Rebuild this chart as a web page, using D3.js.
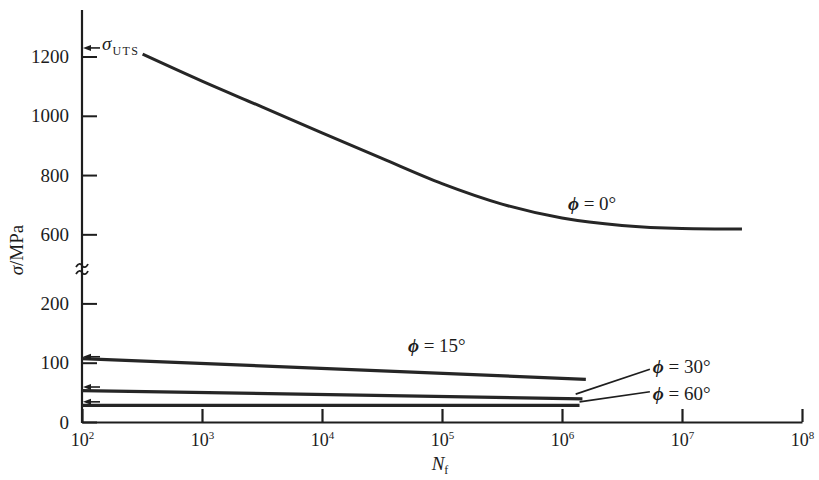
<!DOCTYPE html>
<html><head><meta charset="utf-8">
<script src="https://cdn.jsdelivr.net/npm/d3@7"></script>
<style>
body{margin:0;background:#fff}
svg{display:block}
text{font-family:"Liberation Serif","Times New Roman",serif;fill:#1c1c1c}
</style>
</head><body><svg id="c" width="819" height="480"></svg>
<script>
// ---- data ----
const cycles0 = [3.2e2, 1e3, 3.16e3, 1e4, 3.16e4, 1e5, 3.16e5, 1e6, 3.16e6, 1e7, 3.16e7];
const sigma0  = [1208, 1117, 1030, 942, 856, 771, 702, 655, 630, 620, 618];
const cycles15 = [1e2, 1.58e6];
const sigma15  = [107, 72];
const cycles30 = [1e2, 1.48e6];
const sigma30  = [53, 39];
const cycles60 = [1e2, 1.4e6];
const sigma60  = [28, 28];
const staticStrength = [1229, 110, 59, 34];      // left-pointing arrows at the axis
const xTickValues = [1e2, 1e3, 1e4, 1e5, 1e6, 1e7, 1e8];
const xTickExponents = ["2", "3", "4", "5", "6", "7", "8"];
const yTicksLow = [0, 100, 200];
const yTicksHigh = [600, 800, 1000, 1200];
const seriesLabels = ["0°", "15°", "30°", "60°"];
// label anchors (data coords) for series labels
const labelCycles = [1.12e6, 5.2e4, 5.7e6, 5.7e6];
const labelSigma  = [682, 118, 82.6, 37];

// ---- scales ----
const svg = d3.select("#c");
const x = d3.scaleLog().domain([1e2, 1e8]).range([82, 802]);
const breakLow = 258, breakHigh = 483;
const yLow = d3.scaleLinear().domain([0, breakLow]).range([422, 269]);
const yHigh = d3.scaleLinear().domain([breakHigh, 1357]).range([269, 10]);
const y = v => v <= breakLow ? yLow(v) : yHigh(v);
const ink = "#1e1e1e";

// ---- axes ----
const gx = svg.append("g").attr("transform", "translate(0,422)")
  .call(d3.axisBottom(x).tickValues(xTickValues).tickSizeInner(-13).tickSizeOuter(0).tickPadding(10).tickFormat(""));
gx.select(".domain").attr("stroke", ink).attr("stroke-width", 2.2);
gx.selectAll(".tick line").attr("stroke", ink).attr("stroke-width", 2.2);
gx.selectAll(".tick text").remove();
gx.selectAll(".tick").each(function(d, i) {
  const t = d3.select(this).append("text").attr("y", 24).attr("text-anchor", "middle")
    .attr("font-size", 18).attr("fill", ink);
  t.append("tspan").text("10");
  t.append("tspan").attr("font-size", 11).attr("dy", -7).text(xTickExponents[i]);
});

function yAxis(scale, ticks) {
  const g = svg.append("g").attr("transform", "translate(82,0)")
    .call(d3.axisLeft(scale).tickValues(ticks).tickSizeInner(-15).tickSizeOuter(0).tickPadding(13).tickFormat(d3.format("d")));
  g.select(".domain").remove();
  g.selectAll(".tick line").attr("stroke", ink).attr("stroke-width", 2);
  g.selectAll(".tick text").attr("font-size", 19).attr("fill", ink)
    .attr("font-family", '"Liberation Serif","Times New Roman",serif');
  return g;
}
yAxis(yLow, yTicksLow);
yAxis(yHigh, yTicksHigh);
svg.append("line").attr("x1", 82).attr("x2", 82).attr("y1", 10).attr("y2", 423)
  .attr("stroke", ink).attr("stroke-width", 2.2);

// break symbol (≈)
[-3.5, 3.5].forEach(dy => {
  const yy = 269 + dy;
  svg.append("path")
    .attr("d", `M76,${yy+1.5} C78.5,${yy-3} 81,${yy-2} 82,${yy} S86,${yy+3} 88,${yy-1.5}`)
    .attr("fill", "none").attr("stroke", ink).attr("stroke-width", 1.8);
});

// axis titles
const yt = svg.append("text").attr("transform", "translate(23,250) rotate(-90)")
  .attr("text-anchor", "middle").attr("font-size", 19).attr("fill", ink);
yt.append("tspan").attr("font-style", "italic").text("σ");
yt.append("tspan").text("/MPa");
const xt = svg.append("text").attr("x", 440).attr("y", 470).attr("text-anchor", "middle")
  .attr("font-size", 19).attr("fill", ink);
xt.append("tspan").attr("font-style", "italic").text("N");
xt.append("tspan").attr("font-size", 12).attr("dy", 4).text("f");

// ---- curves ----
const line = d3.line().x(d => x(d[0])).y(d => y(d[1])).curve(d3.curveMonotoneX);
const series = [
  d3.zip(cycles0, sigma0),
  d3.zip(cycles15, sigma15),
  d3.zip(cycles30, sigma30),
  d3.zip(cycles60, sigma60)
];
svg.append("g").selectAll("path").data(series).join("path")
  .attr("d", line).attr("fill", "none").attr("stroke", "#262626")
  .attr("stroke-width", (d, i) => i === 0 ? 3 : 3.2).attr("stroke-linecap", "butt");

// static-strength arrows
svg.append("g").selectAll("g").data(staticStrength).join("g").each(function(v) {
  const g = d3.select(this), yy = y(v);
  g.append("line").attr("x1", 86).attr("x2", 100).attr("y1", yy).attr("y2", yy)
    .attr("stroke", ink).attr("stroke-width", 1.6);
  g.append("path").attr("d", `M83,${yy} L91,${yy-3} L91,${yy+3} Z`).attr("fill", ink);
});

// sigma_UTS label
const su = svg.append("text").attr("x", 102).attr("y", 50).attr("font-size", 19).attr("fill", ink);
su.append("tspan").attr("font-style", "italic").text("σ");
su.append("tspan").attr("font-size", 12).attr("dy", 5).attr("dx", 1).attr("letter-spacing", 1.5).text("UTS");

// series labels
seriesLabels.forEach((s, i) => {
  const t = svg.append("text").attr("x", x(labelCycles[i])).attr("y", y(labelSigma[i]))
    .attr("font-size", 19).attr("fill", ink);
  t.append("tspan").attr("font-style", "italic").attr("font-weight", "bold").text("ϕ");
  t.append("tspan").text(" = " + s);
});

// leader lines for 30° and 60°
const leaderFrom = [[1.3e6, 47], [1.4e6, 34]];
const leaderTo = [[5.4e6, 89], [5.4e6, 51]];
leaderFrom.forEach((p, i) => {
  svg.append("line").attr("x1", x(p[0])).attr("y1", y(p[1]))
    .attr("x2", x(leaderTo[i][0])).attr("y2", y(leaderTo[i][1]))
    .attr("stroke", ink).attr("stroke-width", 1.6);
});
</script>
</body></html>
